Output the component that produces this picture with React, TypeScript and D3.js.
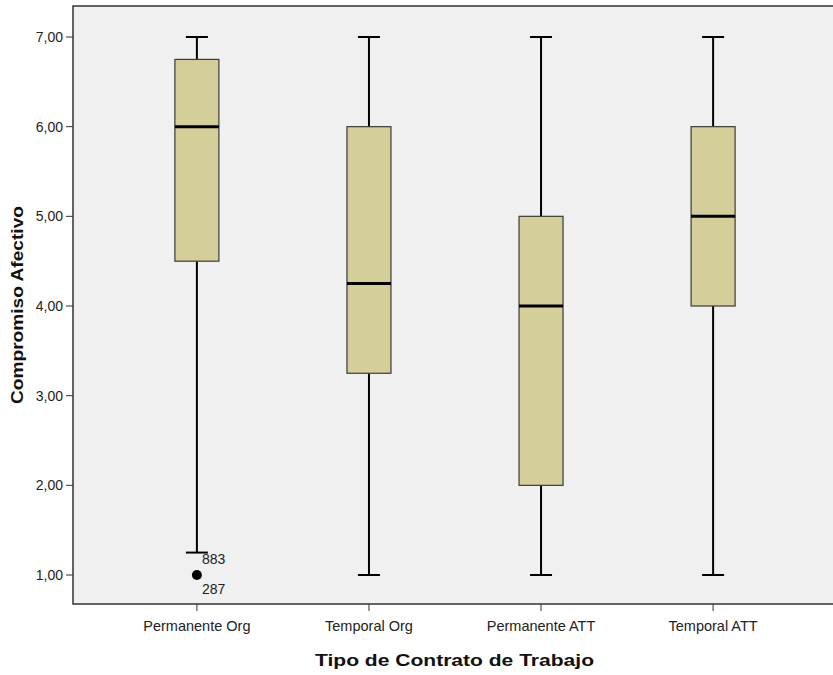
import React from "react";
import * as d3 from "d3";

const categories = ["Permanente Org", "Temporal Org", "Permanente ATT", "Temporal ATT"];
const whiskerLow = [1.25, 1, 1, 1];
const q1 = [4.5, 3.25, 2, 4];
const median = [6, 4.25, 4, 5];
const q3 = [6.75, 6, 5, 6];
const whiskerHigh = [7, 7, 7, 7];
const outliers = [{ cat: "Permanente Org", value: 1, label: "287" }];
const whiskerLabels = [{ cat: "Permanente Org", value: 1.25, label: "883" }];
const yTicks = [1, 2, 3, 4, 5, 6, 7];

const W = 833;
const H = 675;
const plot = { left: 73, right: 837, top: 6, bottom: 604 };

export default function App() {
  const x = d3.scalePoint<string>().domain(categories).range([plot.left, plot.right]).padding(0.72);
  const y = d3.scaleLinear().domain([1, 7]).range([575, 37]);
  const fmt = (v: number) => d3.format(".2f")(v).replace(".", ",");
  const boxW = 44;
  const capW = 22;
  const font = "'Liberation Sans', Arial, sans-serif";

  return (
    <svg width={W} height={H} style={{ position: "absolute", left: 0, top: 0, background: "#fff" }}>
      <rect x={plot.left} y={plot.top} width={plot.right - plot.left} height={plot.bottom - plot.top} fill="#f0f0f0" stroke="#333" strokeWidth={1.5} />
      {yTicks.map((t) => (
        <g key={t}>
          <line x1={plot.left - 7} x2={plot.left} y1={y(t)} y2={y(t)} stroke="#333" strokeWidth={1} />
          <text x={plot.left - 10} y={y(t)} dy="0.35em" textAnchor="end" fontFamily={font} fontSize={14} fill="#222">
            {fmt(t)}
          </text>
        </g>
      ))}
      {categories.map((c, i) => {
        const cx = x(c)!;
        return (
          <g key={c}>
            <line x1={cx} x2={cx} y1={plot.bottom} y2={plot.bottom + 7} stroke="#333" strokeWidth={1} />
            <text x={cx} y={plot.bottom + 27} textAnchor="middle" fontFamily={font} fontSize={14.5} fill="#222">
              {c}
            </text>
            <line x1={cx} x2={cx} y1={y(whiskerLow[i])} y2={y(q1[i])} stroke="#000" strokeWidth={2} />
            <line x1={cx} x2={cx} y1={y(q3[i])} y2={y(whiskerHigh[i])} stroke="#000" strokeWidth={2} />
            <line x1={cx - capW / 2} x2={cx + capW / 2} y1={y(whiskerLow[i])} y2={y(whiskerLow[i])} stroke="#000" strokeWidth={2} />
            <line x1={cx - capW / 2} x2={cx + capW / 2} y1={y(whiskerHigh[i])} y2={y(whiskerHigh[i])} stroke="#000" strokeWidth={2} />
            <rect x={cx - boxW / 2} y={y(q3[i])} width={boxW} height={y(q1[i]) - y(q3[i])} fill="#d4cf98" stroke="#3a3a3a" strokeWidth={1.2} />
            <line x1={cx - boxW / 2} x2={cx + boxW / 2} y1={y(median[i])} y2={y(median[i])} stroke="#000" strokeWidth={3} />
          </g>
        );
      })}
      {outliers.map((o, i) => (
        <g key={"o" + i}>
          <circle cx={x(o.cat)!} cy={y(o.value)} r={5} fill="#000" />
          <text x={x(o.cat)! + 5} y={y(o.value) + 19} fontFamily={font} fontSize={14} fill="#222">
            {o.label}
          </text>
        </g>
      ))}
      {whiskerLabels.map((o, i) => (
        <text key={"w" + i} x={x(o.cat)! + 5} y={y(o.value) + 11} fontFamily={font} fontSize={14} fill="#222">
          {o.label}
        </text>
      ))}
      <text x={(315 + 594) / 2} y={666} textAnchor="middle" fontFamily={font} fontWeight="bold" fontSize={17} textLength={279} lengthAdjust="spacingAndGlyphs" fill="#111">
        Tipo de Contrato de Trabajo
      </text>
      <text transform={`translate(23, ${(plot.top + plot.bottom) / 2}) rotate(-90)`} textAnchor="middle" fontFamily={font} fontWeight="bold" fontSize={17} textLength={198} lengthAdjust="spacingAndGlyphs" fill="#111">
        Compromiso Afectivo
      </text>
    </svg>
  );
}
